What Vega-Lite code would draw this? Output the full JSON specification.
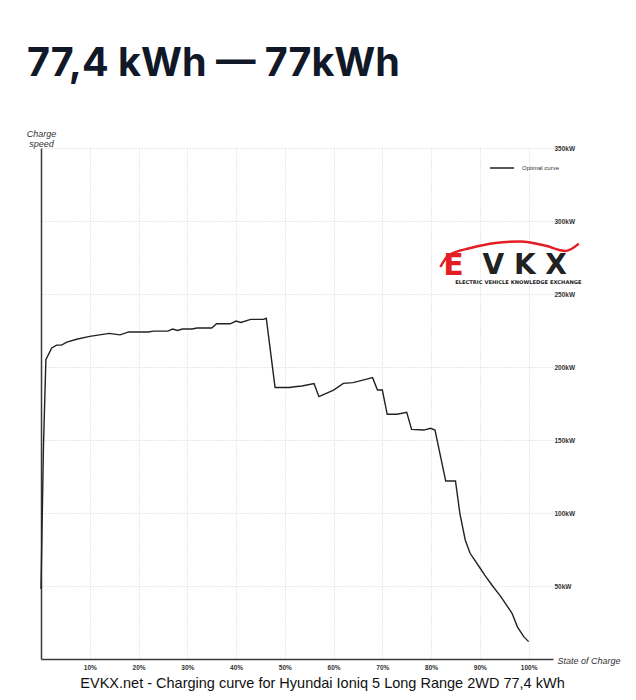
{
  "$schema": "https://vega.github.io/schema/vega-lite/v6.json",
  "width": 512,
  "height": 511,
  "autosize": "none",
  "padding": {"left": 41, "top": 148, "right": 83, "bottom": 41},
  "background": "white",
  "title": {
    "text": "77,4 kWh — 77kWh",
    "anchor": "start",
    "frame": "group",
    "orient": "top",
    "font": "Inter",
    "fontSize": 39.5,
    "fontWeight": 700,
    "color": "#111827",
    "dx": -14,
    "offset": 14,
    "baseline": "alphabetic"
  },
  "config": {"view": {"stroke": null}, "font": "Liberation Sans"},
  "datasets": {
    "curve": [
      {"soc": 0, "kw": 48}, {"soc": 0.5, "kw": 145}, {"soc": 1.0, "kw": 205},
      {"soc": 2.2, "kw": 213}, {"soc": 3.2, "kw": 215}, {"soc": 4.2, "kw": 215},
      {"soc": 5.3, "kw": 217}, {"soc": 7.3, "kw": 219}, {"soc": 10, "kw": 221},
      {"soc": 12, "kw": 222}, {"soc": 14, "kw": 223}, {"soc": 16.2, "kw": 222},
      {"soc": 18, "kw": 224}, {"soc": 22, "kw": 224}, {"soc": 23, "kw": 224.6},
      {"soc": 26, "kw": 224.6}, {"soc": 27, "kw": 226}, {"soc": 28, "kw": 225},
      {"soc": 29, "kw": 226}, {"soc": 31, "kw": 226}, {"soc": 32, "kw": 226.7},
      {"soc": 35, "kw": 226.7}, {"soc": 36, "kw": 229.6}, {"soc": 38.8, "kw": 229.6},
      {"soc": 40, "kw": 231.5}, {"soc": 41, "kw": 230.5}, {"soc": 43, "kw": 232.6},
      {"soc": 45.6, "kw": 232.6}, {"soc": 46.2, "kw": 233.4}, {"soc": 48, "kw": 186},
      {"soc": 51, "kw": 186}, {"soc": 52, "kw": 186.5}, {"soc": 53.5, "kw": 187},
      {"soc": 56, "kw": 188.6}, {"soc": 57, "kw": 179.7}, {"soc": 60, "kw": 184.2},
      {"soc": 62, "kw": 188.8}, {"soc": 64, "kw": 189.3}, {"soc": 66, "kw": 191},
      {"soc": 68, "kw": 192.7}, {"soc": 69, "kw": 184.2}, {"soc": 70, "kw": 184.2},
      {"soc": 71, "kw": 167.6}, {"soc": 73, "kw": 167.6}, {"soc": 75, "kw": 168.9},
      {"soc": 76, "kw": 157.3}, {"soc": 78.5, "kw": 156.8}, {"soc": 79.9, "kw": 158},
      {"soc": 80.8, "kw": 156.8}, {"soc": 83, "kw": 121.9}, {"soc": 85, "kw": 121.9},
      {"soc": 85.9, "kw": 99.8}, {"soc": 87, "kw": 81.5}, {"soc": 88, "kw": 72.4},
      {"soc": 90, "kw": 62.5}, {"soc": 91, "kw": 57.5}, {"soc": 92.5, "kw": 50.5},
      {"soc": 94.3, "kw": 42.7}, {"soc": 96.6, "kw": 31.3}, {"soc": 97.7, "kw": 22},
      {"soc": 99, "kw": 15.3}, {"soc": 100, "kw": 11.9}
    ],
    "logo_text": [
      {"label": "E", "part": "mark_red"},
      {"label": "V K X", "part": "mark_dark"},
      {"label": "ELECTRIC VEHICLE KNOWLEDGE EXCHANGE", "part": "tagline"}
    ],
    "logo_car": [
      {"soc": 81.9, "kw": 268.5}, {"soc": 83.6, "kw": 276.5}, {"soc": 88.1, "kw": 281.5},
      {"soc": 93.2, "kw": 285.0}, {"soc": 98.4, "kw": 286.0}, {"soc": 103.5, "kw": 283.0},
      {"soc": 107.6, "kw": 279.5}, {"soc": 110.3, "kw": 284.5}
    ]
  },
  "layer": [
    {
      "data": {"name": "curve"},
      "mark": {"type": "line", "strokeWidth": 1.4},
      "encoding": {
        "x": {
          "field": "soc", "type": "quantitative",
          "scale": {"domain": [0, 105], "nice": false},
          "axis": {
            "orient": "bottom",
            "values": [10, 20, 30, 40, 50, 60, 70, 80, 90, 100],
            "labelExpr": "datum.value + '%'",
            "labelFontSize": 6.5, "labelFontWeight": "bold", "labelColor": "#333",
            "labelPadding": 5, "ticks": false,
            "domainColor": "#3a3a3a", "domainWidth": 1.5,
            "grid": true, "gridColor": "#c8c8c8", "gridDash": [1, 2], "gridWidth": 0.8,
            "title": "State of Charge", "titleFontStyle": "italic", "titleFontWeight": "normal",
            "titleFontSize": 9, "titleColor": "#333",
            "titleX": 516, "titleY": 1, "titleAlign": "left", "titleBaseline": "middle"
          }
        },
        "y": {
          "field": "kw", "type": "quantitative",
          "scale": {"domain": [0, 350], "nice": false},
          "axis": {
            "orient": "left", "labels": false, "ticks": false, "grid": false,
            "domainColor": "#3a3a3a", "domainWidth": 1.5,
            "title": ["Charge", "speed"], "titleAngle": 0, "titleX": 0, "titleY": -19,
            "titleAlign": "center", "titleBaseline": "top", "titleFontStyle": "italic",
            "titleFontWeight": "normal", "titleFontSize": 9, "titleColor": "#333", "titleLineHeight": 10
          }
        },
        "color": {
          "datum": "Optimal curve",
          "scale": {"range": ["#222222"]},
          "legend": {
            "orient": "none", "legendX": 448, "legendY": 7, "title": null,
            "symbolType": "stroke", "symbolSize": 576, "symbolStrokeWidth": 1.5,
            "labelFontSize": 6, "labelColor": "#333", "labelOffset": 7
          }
        }
      }
    },
    {
      "data": {"name": "curve"},
      "mark": {"type": "point", "opacity": 0},
      "encoding": {
        "x": {
          "field": "soc", "type": "quantitative",
          "axis": {
            "orient": "bottom", "labels": false, "ticks": false, "domain": false, "grid": false,
            "title": "EVKX.net - Charging curve for Hyundai Ioniq 5 Long Range 2WD 77,4 kWh",
            "titleFontSize": 14.5, "titleFontWeight": "normal", "titleColor": "#111",
            "titleX": 281, "titleY": 28, "titleAlign": "center", "titleBaseline": "alphabetic"
          }
        },
        "y": {
          "field": "kw", "type": "quantitative",
          "axis": {
            "orient": "right", "values": [50, 100, 150, 200, 250, 300, 350],
            "labelExpr": "datum.value + 'kW'",
            "labelFontSize": 6.5, "labelFontWeight": "bold", "labelColor": "#333",
            "labelPadding": 1, "ticks": false, "domain": false,
            "grid": true, "gridColor": "#c8c8c8", "gridDash": [1, 2], "gridWidth": 0.8,
            "title": null
          }
        }
      }
    },
    {
      "data": {"name": "logo_car"},
      "mark": {"type": "line", "color": "#e31e24", "strokeWidth": 2.5, "interpolate": "monotone"},
      "encoding": {
        "x": {"field": "soc", "type": "quantitative", "axis": null},
        "y": {"field": "kw", "type": "quantitative", "axis": null}
      }
    },
    {
      "data": {"name": "logo_text"},
      "transform": [{"filter": "datum.part == 'mark_red'"}],
      "mark": {"type": "text", "font": "DejaVu Sans", "fontWeight": "bold", "fontSize": 30, "color": "#e31e24", "baseline": "middle", "align": "center"},
      "encoding": {
        "x": {"datum": 84.6, "type": "quantitative", "axis": null},
        "y": {"datum": 269.5, "type": "quantitative", "axis": null},
        "text": {"field": "label"}
      }
    },
    {
      "data": {"name": "logo_text"},
      "transform": [{"filter": "datum.part == 'mark_dark'"}],
      "mark": {"type": "text", "font": "DejaVu Sans", "fontWeight": "bold", "fontSize": 28, "color": "#222", "baseline": "middle", "align": "center"},
      "encoding": {
        "x": {"datum": 99.2, "type": "quantitative", "axis": null},
        "y": {"datum": 269.5, "type": "quantitative", "axis": null},
        "text": {"field": "label"}
      }
    },
    {
      "data": {"name": "logo_text"},
      "transform": [{"filter": "datum.part == 'tagline'"}],
      "mark": {"type": "text", "font": "DejaVu Sans", "fontWeight": "bold", "fontSize": 5.2, "color": "#222", "baseline": "middle", "align": "center"},
      "encoding": {
        "x": {"datum": 97.9, "type": "quantitative", "axis": null},
        "y": {"datum": 258.2, "type": "quantitative", "axis": null},
        "text": {"field": "label"}
      }
    }
  ],
  "resolve": {"axis": {"x": "independent", "y": "independent"}}
}
